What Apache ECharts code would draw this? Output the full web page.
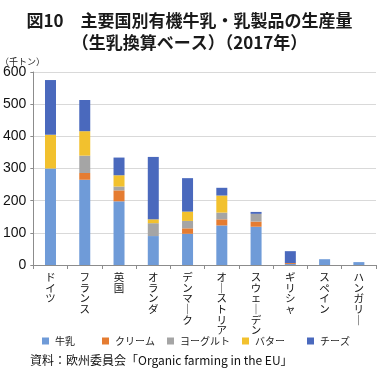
<!DOCTYPE html>
<html><head><meta charset="utf-8">
<script src="https://cdn.jsdelivr.net/npm/echarts@6/dist/echarts.min.js"></script>
<style>html,body{margin:0;padding:0;background:#fff}#c{width:379px;height:370px}</style>
</head><body><div id="c"></div>
<script>
const categories = ['ドイツ','フランス','英国','オランダ','デンマーク','オーストリア','スウェーデン','ギリシャ','スペイン','ハンガリー'];
const milk   = [300, 265, 198, 90, 97, 123, 119, 3, 18, 9];
const cream  = [0, 21, 34, 0, 17, 19, 16, 3, 0, 0];
const yogurt = [0, 54, 12, 40, 23, 21, 24, 0, 0, 0];
const butter = [105, 76, 35, 12, 29, 53, 0, 0, 0, 0];
const cheese = [170, 97, 55, 194, 104, 24, 6, 37, 0, 0];
const seriesNames = ['牛乳','クリーム','ヨーグルト','バター','チーズ'];
const yTicks = [0, 100, 200, 300, 400, 500, 600];
const titleLines = ['図10　主要国別有機牛乳・乳製品の生産量', '（生乳換算ベース）（2017年）'];
const unitText = '（千トン）';
const sourceText = '資料：欧州委員会「Organic farming in the EU」';

const FONT = '"Noto Sans CJK JP", "Noto Sans", sans-serif';
const colors = ['#6f9bd8', '#e57c31', '#a5a5a5', '#f2c12e', '#4a69bd'];
const values = [milk, cream, yogurt, butter, cheese];

const chart = echarts.init(document.getElementById('c'), null, {renderer: 'canvas'});
const legendLefts = [42, 102, 167, 242, 307];
const option = {
  animation: false,
  color: colors,
  textStyle: {fontFamily: FONT},
  title: [
    {text: titleLines[0], left: 'center', top: 7, textStyle: {fontFamily: FONT, fontSize: 17, fontWeight: 'bold', color: '#1a1a1a'}},
    {text: titleLines[1], left: 'center', top: 29, textStyle: {fontFamily: FONT, fontSize: 17, fontWeight: 'bold', color: '#1a1a1a'}}
  ],
  graphic: [
    {type: 'text', left: 0, top: 57, style: {text: unitText, font: '9px ' + FONT, fill: '#222'}},
    {type: 'text', left: 30, top: 354, style: {text: sourceText, font: '12px ' + FONT, fill: '#111'}}
  ],
  legend: seriesNames.map((n, i) => ({
    data: [n], left: legendLefts[i], top: 336, itemWidth: 7, itemHeight: 7, itemGap: 0,
    icon: 'rect', textStyle: {fontFamily: FONT, fontSize: 10, color: '#222', padding: [0, 0, 0, 1]}, padding: 0
  })),
  grid: {left: 33, right: 3, top: 72, bottom: 105, containLabel: false},
  xAxis: {
    type: 'category', data: categories,
    axisLine: {lineStyle: {color: '#8c8c8c', width: 1}},
    axisTick: {show: true, length: 4, lineStyle: {color: '#8c8c8c'}},
    axisLabel: {
      interval: 0, margin: 7, fontSize: 10.5, lineHeight: 10.6, color: '#111', fontFamily: FONT,
      verticalAlign: 'top',
      formatter: v => v.replace(/ー/g, '｜').split('').join('\n')
    }
  },
  yAxis: {
    type: 'value', min: 0, max: 600, interval: 100,
    axisLine: {show: true, lineStyle: {color: '#8c8c8c', width: 1}},
    axisTick: {show: true, length: 3, lineStyle: {color: '#8c8c8c'}},
    splitLine: {lineStyle: {color: '#d9d9d9', width: 1}},
    axisLabel: {margin: 7, fontSize: 14, color: '#111', fontFamily: 'Liberation Sans Narrow, Liberation Sans, Arial, sans-serif',
      formatter: v => yTicks.includes(v) ? String(v) : ''}
  },
  series: seriesNames.map((n, i) => ({
    name: n, type: 'bar', stack: 'total', data: values[i], barWidth: 11,
    itemStyle: {color: colors[i]}
  }))
};
chart.setOption(option);
</script>
</body></html>
